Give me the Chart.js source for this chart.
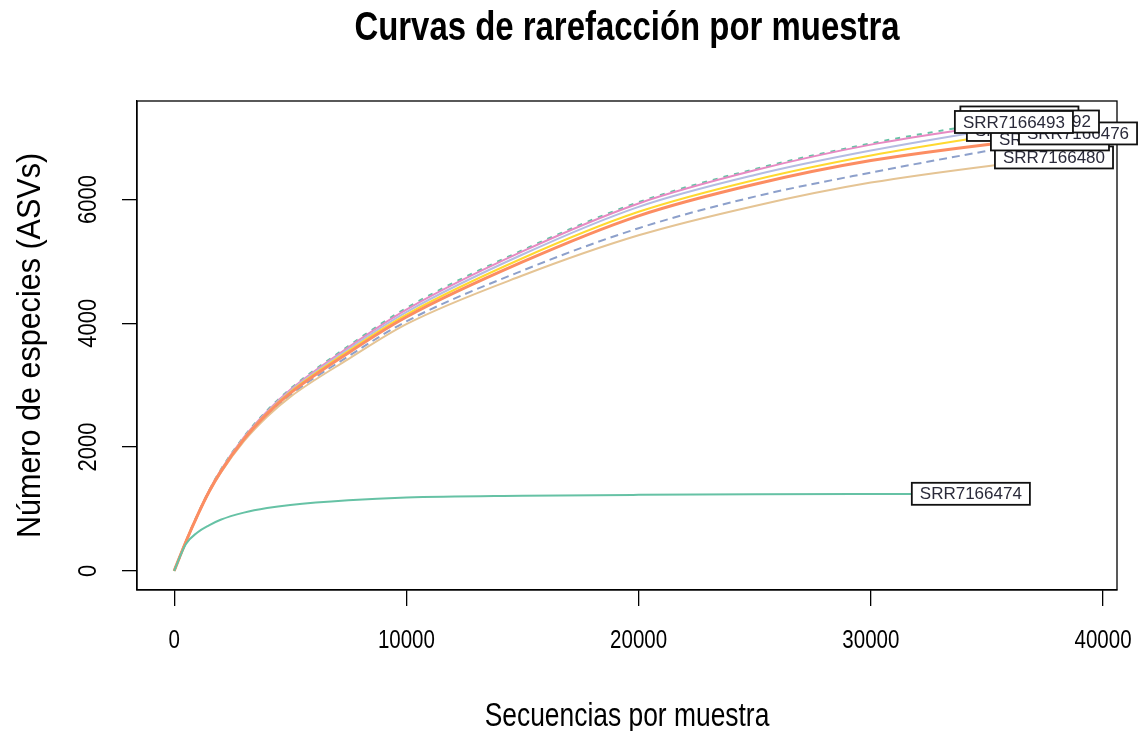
<!DOCTYPE html>
<html>
<head>
<meta charset="utf-8">
<title>Curvas de rarefacción por muestra</title>
<script src="https://cdn.jsdelivr.net/npm/chart.js@4.4.1/dist/chart.umd.min.js"></script>
<style>
  html, body { margin: 0; padding: 0; background: #ffffff; }
  #wrap { width: 1142px; height: 731px; position: relative; }
</style>
</head>
<body>
<div id="wrap"><canvas id="rare" width="1142" height="731"></canvas></div>
<script>
// Axis ticks
const xTickValues = [0, 10000, 20000, 30000, 40000];
const yTickValues = [0, 2000, 4000, 6000];

// Subsampling depths shared by every curve (the last point of each curve is its own total depth)
const depthSteps = [0, 500, 1000, 1500, 2000, 3000, 4000, 5000, 7500, 10000, 15000, 20000, 25000, 30000];

// Samples and their total sequencing depth
const sampleNames  = ['SRR7166474', 'SRR7166476', 'SRR7166477', 'SRR7166480', 'SRR7166481', 'SRR7166492', 'SRR7166493', 'SRR7166494'];
const sampleDepths = [34307, 38921, 36678, 37886, 37713, 37282, 36161, 36398];

// Expected number of ASVs at each depth step, then at the total depth
const asv474 = [0, 430, 620, 735, 825, 940, 1015, 1065, 1140, 1184, 1212, 1227, 1236, 1241, 1244];
const asv476 = [0, 466, 892, 1276, 1598, 2123, 2535, 2870, 3520, 4100, 4990, 5735, 6245, 6628, 7066];
const asv477 = [0, 467, 894, 1280, 1605, 2133, 2548, 2888, 3550, 4140, 5050, 5800, 6315, 6710, 7122];
const asv480 = [0, 464, 885, 1264, 1580, 2090, 2488, 2810, 3420, 3985, 4770, 5420, 5895, 6272, 6678];
const asv481 = [0, 465, 889, 1270, 1590, 2108, 2512, 2840, 3465, 4030, 4850, 5535, 6045, 6434, 6969];
const asv492 = [0, 468, 897, 1285, 1612, 2143, 2560, 2905, 3580, 4180, 5110, 5880, 6395, 6790, 7259];
const asv493 = [0, 470, 900, 1290, 1620, 2155, 2575, 2925, 3610, 4220, 5160, 5935, 6470, 6885, 7251];
const asv494 = [0, 472, 905, 1295, 1630, 2165, 2590, 2940, 3630, 4245, 5180, 5955, 6490, 6905, 7324];

const richness = [asv474, asv476, asv477, asv480, asv481, asv492, asv493, asv494];

// Line styles per sample
const lineColors = ['#66C2A5', '#FC8D62', '#FFD92F', '#E5C494', '#8DA0CB', '#B4BCE2', '#E78AC3', '#66C2A5'];
const lineWidths = [2, 3, 2, 2, 2, 2, 2, 2];
const lineDashes = [[], [], [], [], [8, 5], [], [], [5, 6]];

// Order in which the boxed labels are stacked (last one ends up on top)
const labelOrder = [0, 3, 2, 4, 1, 7, 5, 6];

const SANS = '"Liberation Sans", Arial, sans-serif';

const datasets = sampleNames.map((name, i) => ({
  label: name,
  data: richness[i].map((v, k) => ({ x: k < depthSteps.length ? depthSteps[k] : sampleDepths[i], y: v })),
  borderColor: lineColors[i],
  borderWidth: lineWidths[i],
  borderDash: lineDashes[i],
  pointRadius: 0,
  fill: false,
  cubicInterpolationMode: 'monotone'
}));

// Condensed text: stretch factor along the text direction
function condensedText(ctx, text, x, y, font, stretch, angle) {
  ctx.save();
  ctx.translate(x, y);
  if (angle) ctx.rotate(angle);
  ctx.scale(stretch, 1);
  ctx.font = font;
  ctx.fillText(text, 0, 0);
  ctx.restore();
}

// Plot frame, tick labels, titles and the boxed sample labels
const decorations = {
  id: 'decorations',
  afterDraw(chart) {
    const { ctx, chartArea: a, scales: { x, y } } = chart;
    ctx.save();

    // frame around the plotting region
    ctx.strokeStyle = '#000';
    ctx.lineWidth = 1.3;
    ctx.strokeRect(a.left, a.top, a.right - a.left, a.bottom - a.top);

    ctx.fillStyle = '#000';
    ctx.textAlign = 'center';
    ctx.textBaseline = 'middle';

    // x tick labels
    xTickValues.forEach(v => {
      condensedText(ctx, String(v), x.getPixelForValue(v), 641, '25px ' + SANS, 0.82, 0);
    });
    // y tick labels, rotated
    yTickValues.forEach(v => {
      condensedText(ctx, String(v), 89, y.getPixelForValue(v), '25px ' + SANS, 0.88, -Math.PI / 2);
    });

    // main title
    condensedText(ctx, 'Curvas de rarefacción por muestra', (a.left + a.right) / 2, 29, 'bold 40px ' + SANS, 0.823, 0);

    // axis titles
    condensedText(ctx, 'Secuencias por muestra', (a.left + a.right) / 2, 717, '33px ' + SANS, 0.8, 0);
    condensedText(ctx, 'Número de especies (ASVs)', 31, (a.top + a.bottom) / 2, '33px ' + SANS, 0.925, -Math.PI / 2);

    // boxed labels at the end of each curve
    ctx.font = '17px ' + SANS;
    labelOrder.forEach(i => {
      const vals = richness[i];
      const px = x.getPixelForValue(sampleDepths[i]);
      const py = y.getPixelForValue(vals[vals.length - 1]);
      const w = ctx.measureText(sampleNames[i]).width + 16;
      const h = 22;
      ctx.fillStyle = '#fff';
      ctx.fillRect(px - w / 2, py - h / 2, w, h);
      ctx.strokeStyle = '#111';
      ctx.lineWidth = 1.8;
      ctx.strokeRect(px - w / 2, py - h / 2, w, h);
      ctx.fillStyle = '#2a2a3a';
      ctx.fillText(sampleNames[i], px, py + 1);
    });

    ctx.restore();
  }
};

new Chart(document.getElementById('rare'), {
  type: 'line',
  data: { datasets },
  options: {
    responsive: false,
    animation: false,
    events: [],
    layout: { padding: { top: 101, right: 25, left: 0, bottom: 0 } },
    plugins: { legend: { display: false }, title: { display: false }, tooltip: { enabled: false } },
    scales: {
      x: {
        type: 'linear',
        min: -1600,
        max: 40600,
        afterBuildTicks: s => { s.ticks = xTickValues.map(v => ({ value: v })); },
        afterFit: s => { s.height = 141; },
        ticks: { display: false },
        grid: { display: true, drawOnChartArea: false, drawTicks: true, tickLength: 16, color: '#000', lineWidth: 1.3 },
        border: { display: true, color: '#000', width: 1.3 }
      },
      y: {
        type: 'linear',
        min: -310,
        max: 7590,
        afterBuildTicks: s => { s.ticks = yTickValues.map(v => ({ value: v })); },
        afterFit: s => { s.width = 137; },
        ticks: { display: false },
        grid: { display: true, drawOnChartArea: false, drawTicks: true, tickLength: 15, color: '#000', lineWidth: 1.3 },
        border: { display: true, color: '#000', width: 1.3 }
      }
    }
  },
  plugins: [decorations]
});
</script>
</body>
</html>
